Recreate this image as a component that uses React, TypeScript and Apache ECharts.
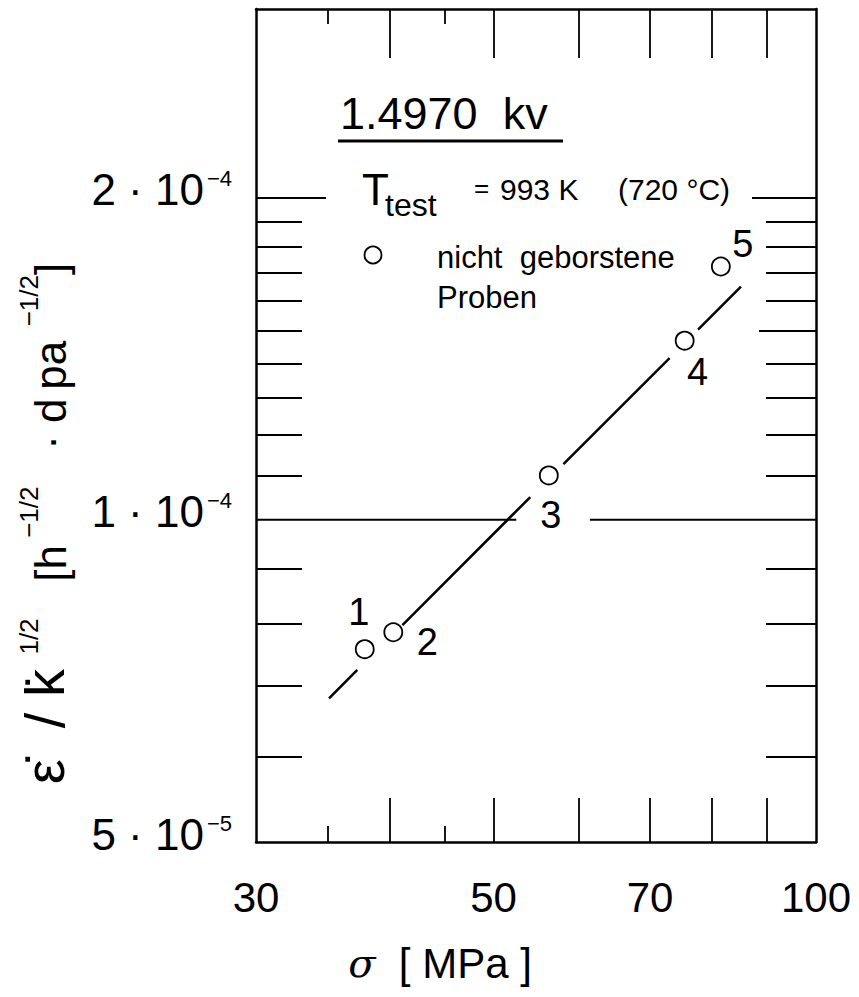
import React, { useEffect, useRef } from 'react';
import * as echarts from 'echarts';

// ---- data ----
const pointIds = ['1', '2', '3', '4', '5'];
const sigmaMPa = [37.9, 40.3, 56.3, 75.4, 81.5];
const rateRatio = [7.57e-5, 7.85e-5, 1.1e-4, 1.47e-4, 1.724e-4];

// fitted line, drawn in segments (pairs of endpoints), interrupted around the symbols
const fitSigma = [35.1, 37.3, 41.1, 54.1, 58.1, 73.0, 77.6, 85.1];
const fitRate = [6.81e-5, 7.24e-5, 7.97e-5, 1.05e-4, 1.127e-4, 1.416e-4, 1.505e-4, 1.651e-4];

// 1e-4 reference line (two segments, gap for label "3")
const refSigma = [30, 52.5, 61.5, 100];
const refRate = [1e-4, 1e-4, 1e-4, 1e-4];

const xLabelValues = [30, 50, 70, 100];
const xMajorTicks = [40, 50, 60, 70, 80, 90];
const xMinorTicks = [35, 45];

const yLabelValues = [5e-5, 1e-4, 2e-4];
const yLabelMantissa = ['5', '1', '2'];
const yLabelExponent = ['\u22125', '\u22124', '\u22124'];
const yMinorTicks = [6e-5, 7e-5, 8e-5, 9e-5, 1.1e-4, 1.2e-4, 1.3e-4, 1.4e-4, 1.5e-4, 1.6e-4, 1.7e-4, 1.8e-4, 1.9e-4];
const yMidTicks = [1.5e-4];
const yMajorTicks = [2e-4];

const FONT = 'Liberation Sans';
const BLACK = '#000';

function segments(xs: number[], ys: number[]) {
  const out: any[] = [];
  for (let i = 0; i + 1 < xs.length; i += 2) {
    if (i > 0) out.push(['-', '-']);
    out.push([xs[i], ys[i]], [xs[i + 1], ys[i + 1]]);
  }
  return out;
}

const LABEL_OFFSETS: number[][] = [[-6, -37], [34, 10], [2, 40], [13, 31], [22, -23]];

function tickStyle(values: number[], length: number) {
  return { show: true, inside: true, length, customValues: values, lineStyle: { color: BLACK, width: 1.8 } };
}

function xAx(extra: any) {
  return {
    type: 'log', logBase: 10, min: 30, max: 100,
    splitLine: { show: false }, minorTick: { show: false }, minorSplitLine: { show: false },
    axisLabel: { show: false }, axisLine: { show: false }, axisTick: { show: false },
    axisPointer: { show: false },
    ...extra,
  };
}
function yAx(extra: any) {
  return {
    type: 'log', logBase: 10, min: 5e-5, max: 3e-4,
    splitLine: { show: false }, minorTick: { show: false }, minorSplitLine: { show: false },
    axisLabel: { show: false }, axisLine: { show: false }, axisTick: { show: false },
    axisPointer: { show: false },
    ...extra,
  };
}

function yLabelFormatter(v: number) {
  let idx = 0;
  let best = Infinity;
  yLabelValues.forEach((lv, i) => {
    const d = Math.abs(Math.log10(v) - Math.log10(lv));
    if (d < best) { best = d; idx = i; }
  });
  return '{m|' + yLabelMantissa[idx] + ' \u00b7 10}{s|' + yLabelExponent[idx] + '}';
}

function txt(text: string, fontSize: number, extra: any = {}) {
  return {
    text, fontSize, fontFamily: FONT, fill: BLACK,
    align: 'left', verticalAlign: 'middle', textAlign: 'left', textVerticalAlign: 'middle',
    ...extra,
  };
}

const Y_NAME =
  '{b|\u03b5\u0307  / k\u0307}{s|  1/2}{m|   [h}{s| \u22121/2}{m|   \u00b7 d\u2009pa}{s|  \u22121/2}{m|]}';

export default function App() {
  const ref = useRef<HTMLDivElement>(null);
  useEffect(() => {
    if (!ref.current) return;
    const chart = echarts.init(ref.current, undefined, { renderer: 'svg' });
    const lineAxis = { show: true, lineStyle: { color: BLACK, width: 2.5 } };
    const option: any = {
      animation: false,
      backgroundColor: '#fff',
      grid: { left: 256, right: 43, top: 9, bottom: 155, containLabel: false, outerBoundsMode: 'none' },
      xAxis: [
        xAx({
          position: 'bottom',
          axisLine: lineAxis,
          axisTick: tickStyle(xMajorTicks, 44),
          axisLabel: {
            show: true, customValues: xLabelValues, margin: 34,
            formatter: (v: number) => String(Math.round(v)),
            fontSize: 42, fontFamily: FONT, color: BLACK,
          },
          name: '{g|\u03c3}{m|  [ MPa ]}',
          nameLocation: 'middle', nameGap: 100, nameMoveOverlap: false,
          nameTextStyle: {
            color: BLACK, fontFamily: FONT, fontSize: 42, padding: [0, 192, 0, 0],
            rich: {
              g: { fontFamily: 'DejaVu Serif', fontStyle: 'italic', fontSize: 40, color: BLACK },
              m: { fontFamily: FONT, fontSize: 42, color: BLACK },
            },
          },
        }),
        xAx({ position: 'bottom', axisTick: tickStyle(xMinorTicks, 16) }),
        xAx({ position: 'top', axisLine: lineAxis, axisTick: tickStyle(xMajorTicks, 49) }),
        xAx({ position: 'top', axisTick: tickStyle(xMinorTicks, 15) }),
      ],
      yAxis: [
        yAx({
          position: 'left',
          axisLine: lineAxis,
          axisTick: tickStyle(yMinorTicks, 46),
          axisLabel: {
            show: true, customValues: yLabelValues, margin: 24,
            formatter: yLabelFormatter, padding: [0, 0, 16, 0],
            color: BLACK, fontFamily: FONT, fontSize: 44,
            rich: {
              m: { fontFamily: FONT, fontSize: 44, color: BLACK },
              s: { fontFamily: FONT, fontSize: 22, color: BLACK, verticalAlign: 'top', padding: [0, 0, 0, 3] },
            },
          },
          name: Y_NAME,
          nameLocation: 'middle', nameRotate: 90, nameGap: 184, nameMoveOverlap: false,
          nameTextStyle: {
            color: BLACK, fontFamily: FONT, fontSize: 44, padding: [0, 196, 0, 0],
            rich: {
              b: { fontFamily: FONT, fontSize: 56, color: BLACK, verticalAlign: 'bottom' },
              m: { fontFamily: FONT, fontSize: 44, color: BLACK, verticalAlign: 'bottom' },
              s: { fontFamily: FONT, fontSize: 26, color: BLACK, verticalAlign: 'top' },
            },
          },
        }),
        yAx({ position: 'left', axisTick: tickStyle(yMajorTicks, 70) }),
        yAx({ position: 'right', axisLine: lineAxis, axisTick: tickStyle(yMinorTicks, 50) }),
        yAx({ position: 'right', axisTick: tickStyle(yMidTicks, 57) }),
        yAx({ position: 'right', axisTick: tickStyle(yMajorTicks, 64) }),
      ],
      series: [
        {
          type: 'line', name: 'ref', xAxisIndex: 0, yAxisIndex: 0,
          data: segments(refSigma, refRate), connectNulls: false,
          showSymbol: false, symbol: 'none', silent: true,
          lineStyle: { color: BLACK, width: 2 }, z: 1,
        },
        {
          type: 'line', name: 'fit', xAxisIndex: 0, yAxisIndex: 0,
          data: segments(fitSigma, fitRate), connectNulls: false,
          showSymbol: false, symbol: 'none', silent: true,
          lineStyle: { color: BLACK, width: 2.5 }, z: 2,
        },
        {
          type: 'scatter', name: 'nicht geborstene Proben', xAxisIndex: 0, yAxisIndex: 0,
          symbol: 'circle', symbolSize: 18, z: 3,
          itemStyle: { color: '#fff', borderColor: BLACK, borderWidth: 1.8, opacity: 1 },
          label: {
            show: true, position: 'inside', formatter: (p: any) => p.name,
            fontSize: 38, fontFamily: FONT, color: BLACK,
          },
          data: sigmaMPa.map((s, i) => ({
            name: pointIds[i], value: [s, rateRatio[i]],
            label: { offset: LABEL_OFFSETS[i] },
          })),
        },
      ],
      graphic: [
        { type: 'text', x: 340, y: 113, style: txt('1.4970  kv', 45) },
        { type: 'line', shape: { x1: 338, y1: 141, x2: 563, y2: 141 }, style: { stroke: BLACK, lineWidth: 3 } },
        { type: 'text', x: 362, y: 189, style: txt('T', 44) },
        { type: 'text', x: 385, y: 205, style: txt('test', 32) },
        { type: 'text', x: 474, y: 188, style: txt('=', 26) },
        { type: 'text', x: 500, y: 189, style: txt('993 K', 30) },
        { type: 'text', x: 618, y: 189, style: txt('(720 \u00b0C)', 30) },
        { type: 'circle', shape: { cx: 373, cy: 255, r: 8.5 }, style: { fill: '#fff', stroke: BLACK, lineWidth: 1.8 } },
        { type: 'text', x: 437, y: 257, style: txt('nicht  geborstene', 31) },
        { type: 'text', x: 437, y: 297, style: txt('Proben', 31) },
      ],
    };
    chart.setOption(option);
    return () => chart.dispose();
  }, []);
  return <div ref={ref} style={{ position: 'absolute', left: 0, top: 0, width: 859, height: 997 }} />;
}
